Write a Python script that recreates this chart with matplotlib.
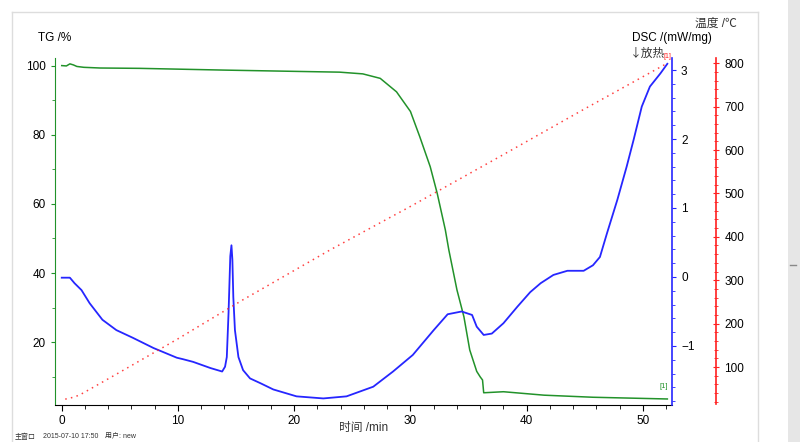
import matplotlib
matplotlib.use("Agg")
import matplotlib.pyplot as plt
from matplotlib.ticker import MultipleLocator
from matplotlib.patches import Rectangle
from matplotlib.lines import Line2D

plt.rcParams['font.family'] = ['Liberation Sans', 'Noto Sans CJK SC', 'DejaVu Sans']

# TG curve (%)
time_tg = [0.0, 0.4, 0.7, 1.0, 1.3, 1.9, 3.3, 6.7, 13.9, 20.5, 23.9, 25.9, 27.4,
           28.8, 30.0, 30.8, 31.7, 32.3, 33.0, 33.3, 34.0, 34.6, 35.1, 35.7,
           36.0, 36.2, 36.3, 38.0, 41.5, 45.7, 52.1]
tg = [100.1, 100.0, 100.6, 100.3, 99.85, 99.6, 99.4, 99.3, 98.8, 98.4, 98.2,
      97.7, 96.4, 92.5, 86.8, 79.5, 70.8, 63.1, 52.5, 46.7, 35.1, 27.3, 17.7,
      11.5, 9.9, 9.0, 5.3, 5.6, 4.6, 4.0, 3.5]

# DSC curve (mW/mg)
time_dsc = [0.0, 0.7, 1.1, 1.7, 2.4, 3.5, 4.7, 6.1, 7.9, 9.9, 10.4, 11.3, 12.8,
            13.8, 14.05, 14.2, 14.35, 14.5, 14.6, 14.68, 14.76, 14.9, 15.2, 15.6,
            16.2, 17.1, 18.2, 20.2, 22.5, 24.5, 26.8, 28.5, 30.2, 32.0, 33.2,
            34.4, 35.3, 35.7, 36.3, 37.0, 38.0, 39.2, 40.3, 41.2, 42.3, 43.5,
            44.9, 45.7, 46.3, 46.9, 47.8, 48.6, 49.2, 49.9, 50.6, 51.5, 52.1]
dsc = [-0.01, -0.01, -0.09, -0.19, -0.38, -0.62, -0.77, -0.88, -1.03, -1.17,
       -1.19, -1.23, -1.32, -1.37, -1.30, -1.16, -0.52, 0.30, 0.46, 0.25, -0.29,
       -0.77, -1.16, -1.35, -1.47, -1.54, -1.63, -1.73, -1.76, -1.73, -1.59,
       -1.37, -1.13, -0.77, -0.54, -0.50, -0.55, -0.72, -0.84, -0.82, -0.67,
       -0.43, -0.22, -0.09, 0.03, 0.09, 0.09, 0.17, 0.29, 0.63, 1.12, 1.60,
       1.99, 2.47, 2.76, 2.95, 3.09]

# furnace temperature (C)
time_temp = [0.3, 0.7, 1.5, 2.5, 5.0, 10.0, 15.6, 23.1, 30.0, 37.7, 45.0, 52.1]
temp = [26, 28, 35, 50, 88, 165, 255, 370, 470, 585, 695, 800]

x_ticks = [0, 10, 20, 30, 40, 50]
tg_ticks = [20, 40, 60, 80, 100]
dsc_ticks = [-1, 0, 1, 2, 3]
temp_ticks = [100, 200, 300, 400, 500, 600, 700, 800]

GREEN = '#22922a'
BLUE = '#2626ff'
RED = '#ff2020'

fig = plt.figure(figsize=(8, 4.42), dpi=100)
ax = fig.add_axes([55 / 800, 1 - 404.5 / 442, (672 - 55) / 800, (404.5 - 58) / 442])
ax2 = ax.twinx()
ax3 = ax.twinx()

ax.plot(time_tg, tg, color=GREEN, lw=1.1, zorder=3)
ax2.plot(time_dsc, dsc, color=BLUE, lw=1.3)
ax3.plot(time_temp, temp, color=RED, lw=1.1, ls=(0, (1, 2.8)), alpha=0.85)

ax.set_xlim(-0.58, 52.5)
ax.set_ylim(1.9, 102.3)
ax2.set_ylim(-1.848, 3.174)
ax3.set_ylim(13.6, 812)

ax.set_xticks(x_ticks)
ax.xaxis.set_minor_locator(MultipleLocator(2))
ax.set_yticks(tg_ticks)
ax.yaxis.set_minor_locator(MultipleLocator(10))
ax2.set_yticks(dsc_ticks)
ax2.yaxis.set_minor_locator(MultipleLocator(0.2))
ax3.set_yticks(temp_ticks)
ax3.yaxis.set_minor_locator(MultipleLocator(20))

for a in (ax, ax2, ax3):
    a.spines['top'].set_visible(False)
    a.patch.set_visible(False)

ax.spines['right'].set_visible(False)
ax.spines['left'].set_color(GREEN)
ax.spines['bottom'].set_color('black')
ax.tick_params(axis='y', which='both', colors=GREEN, labelcolor='black', labelsize=8.5)
ax.tick_params(axis='y', which='major', length=3)
ax.tick_params(axis='y', which='minor', length=2)
ax.tick_params(axis='x', which='major', length=4, labelsize=8.5)
ax.tick_params(axis='x', which='minor', length=3)

ax2.spines['left'].set_visible(False)
ax2.spines['bottom'].set_visible(False)
ax2.spines['right'].set_color(BLUE)
ax2.spines['right'].set_linewidth(1.2)
ax2.tick_params(axis='y', which='both', colors=BLUE, labelcolor='black', labelsize=8.5)
ax2.tick_params(axis='y', which='major', length=3)
ax2.tick_params(axis='y', which='minor', length=2)

ax3.spines['left'].set_visible(False)
ax3.spines['bottom'].set_visible(False)
ax3.spines['right'].set_position(('outward', 31.7))  # 44 px
ax3.spines['right'].set_color(RED)
ax3.spines['right'].set_linewidth(1.2)
ax3.tick_params(axis='y', which='both', colors=RED, labelcolor='black', labelsize=8.5,
                direction='inout')
ax3.tick_params(axis='y', which='major', length=5)
ax3.tick_params(axis='y', which='minor', length=3)

def px(x, y):
    return x / 800, 1 - y / 442

fig.text(*px(38, 38), 'TG /%', fontsize=8.5, va='center')
fig.text(*px(632, 38), 'DSC /(mW/mg)', fontsize=8.5, va='center')
fig.text(*px(630, 53), '↓放热', fontsize=8.5, va='center', color='#333333',
         family=['Noto Sans CJK SC', 'DejaVu Sans'])
fig.text(*px(695, 24), '温度 /℃', fontsize=8.5, va='center', color='#333333')
fig.text(*px(364, 428), '时间 /min', fontsize=8.5, ha='center', va='center', color='#333333')
fig.text(*px(664, 57), '[1]', fontsize=5, va='center', color=RED)
fig.text(*px(660, 387), '[1]', fontsize=5.5, va='center', color=GREEN)
fig.text(*px(15, 437), '主窗口', fontsize=5, va='center', color='#333333')
fig.text(*px(43, 437), '2015-07-10 17:50', fontsize=5, va='center', color='#333333')
fig.text(*px(105, 437), '用户: new', fontsize=5, va='center', color='#333333')

# screenshot frame
fig.add_artist(Line2D([12 / 800, 758 / 800], [1 - 12 / 442, 1 - 12 / 442],
                      color='#dddddd', lw=1))
fig.add_artist(Line2D([12 / 800, 12 / 800], [0, 1 - 12 / 442], color='#dddddd', lw=1))
fig.add_artist(Line2D([758 / 800, 758 / 800], [0, 1 - 12 / 442], color='#dddddd', lw=1))
fig.add_artist(Rectangle((788 / 800, 0), 12 / 800, 1, color='#e6e6e6', lw=0))
fig.add_artist(Line2D([790 / 800, 796 / 800], [1 - 265 / 442, 1 - 265 / 442],
                      color='#888888', lw=1))

fig.savefig('out.png', dpi=100)
